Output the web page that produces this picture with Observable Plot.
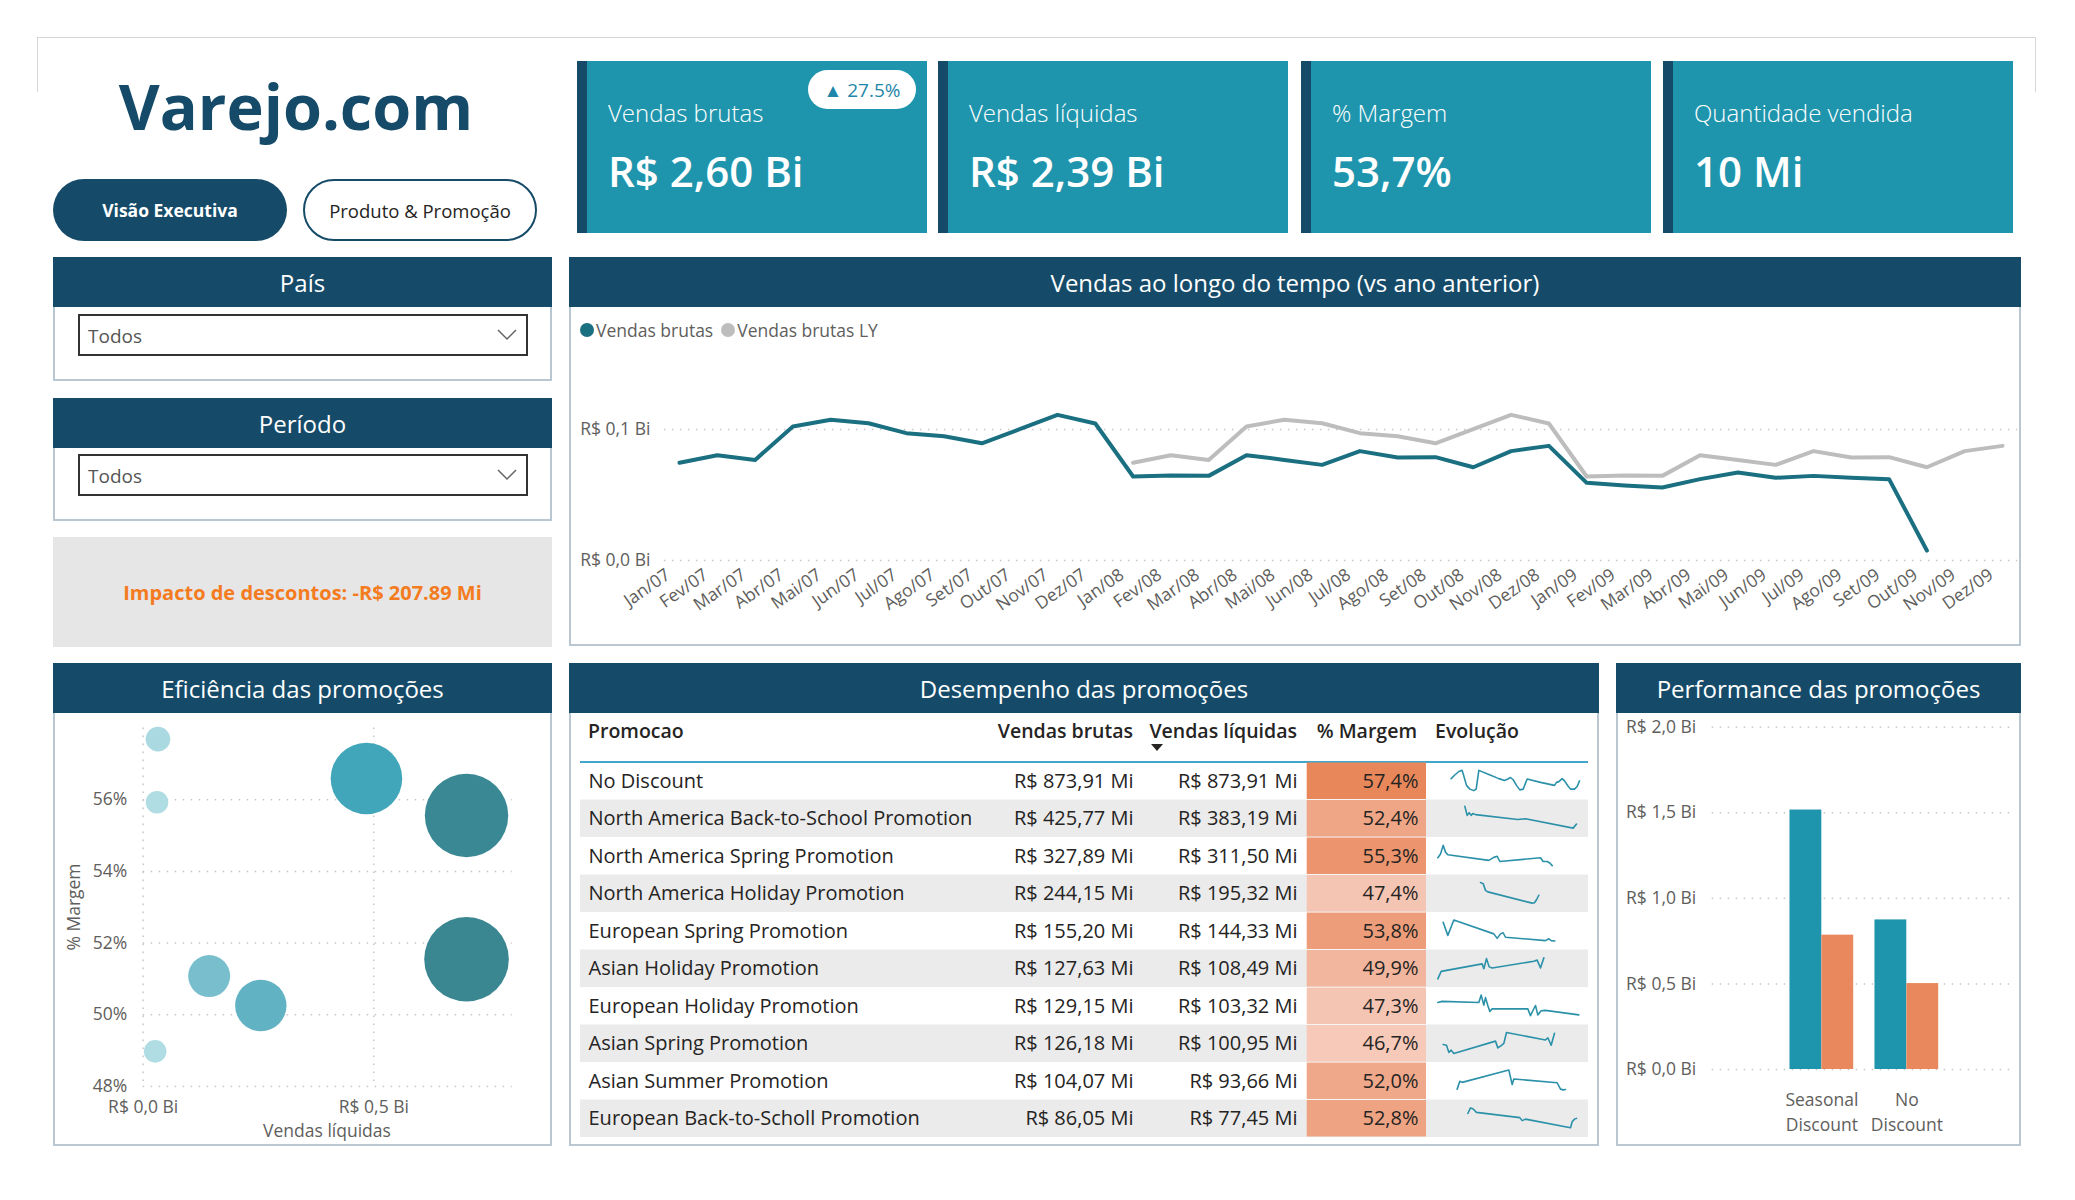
<!DOCTYPE html>
<html lang="pt-BR">
<head>
<meta charset="utf-8">
<script src="https://cdn.jsdelivr.net/npm/d3@7"></script>
<script src="https://cdn.jsdelivr.net/npm/@observablehq/plot@0.6"></script>
<style>
  html, body { margin: 0; padding: 0; background: #fff; }
  body { font-family: "Segoe UI", "Open Sans", sans-serif; color: #252423; }
  #page { position: relative; width: 2075px; height: 1200px; overflow: hidden; background: #fff; }
  .abs { position: absolute; }
  .panel { position: absolute; box-sizing: border-box; border: 2px solid #b9c7d2; background: #fff; }
  .phead { position: absolute; left: -2px; right: -2px; top: -2px; height: 50px; background: #154b69; color: #fff;
           font-size: 24px; display: flex; align-items: center; justify-content: center; }
  .card { position: absolute; top: 61px; width: 350px; height: 172px; background: #1f95ad; }
  .card .strip { position: absolute; left: 0; top: 0; bottom: 0; width: 10px; background: #154b69; }
  .card .lbl { position: absolute; left: 31px; top: 40px; font-size: 24px; color: #fff; font-weight: 300; line-height: 24px; white-space: nowrap; }
  .card .val { position: absolute; left: 31px; top: 89px; font-size: 42px; color: #fff; font-weight: 600; line-height: 42px; white-space: nowrap; }
  .dropdown { position: absolute; left: 78px; width: 450px; height: 42px; box-sizing: border-box; border: 2px solid #333;
              background: #fff; font-size: 19px; color: #555; display: flex; align-items: center; padding-left: 8px; padding-top: 2px; }
  .dropdown svg { position: absolute; right: 9px; top: 13px; }
  .th { position: absolute; top: 718px; font-size: 19.5px; font-weight: 600; color: #252423; white-space: nowrap; line-height: 26px; }
  .plotbox { position: absolute; }
  .plotbox svg { overflow: visible; }
  .axlabel { position: absolute; font-size: 17.5px; color: #605e5c; white-space: nowrap; }
</style>
</head>
<body>
<div id="page">
  <!-- outer frame top -->
  <div class="abs" style="left:37px;top:37px;width:1999px;height:55px;border:1.5px solid #d6d6d6;border-bottom:none;box-sizing:border-box;"></div>

  <!-- title and buttons -->
  <div class="abs" style="left:0;top:71px;width:592px;text-align:center;font-size:63px;font-weight:700;color:#154b69;line-height:70px;">Varejo.com</div>
  <div class="abs" style="left:53px;top:179px;width:234px;height:62px;border-radius:31px;background:#154b69;color:#fff;font-weight:700;font-size:17.5px;display:flex;align-items:center;justify-content:center;">Visão Executiva</div>
  <div class="abs" style="left:303px;top:179px;width:234px;height:62px;border-radius:31px;border:2px solid #154b69;box-sizing:border-box;background:#fff;color:#252423;font-size:18.5px;display:flex;align-items:center;justify-content:center;">Produto &amp; Promoção</div>

  <div id="cards"></div>

  <!-- filters -->
  <div class="panel" style="left:53px;top:257px;width:499px;height:124px;"><div class="phead">País</div></div>
  <div class="dropdown" style="top:314px;">Todos<svg width="20" height="12"><polyline points="1,1 10,10 19,1" fill="none" stroke="#666" stroke-width="1.5"/></svg></div>
  <div class="panel" style="left:53px;top:398px;width:499px;height:123px;"><div class="phead">Período</div></div>
  <div class="dropdown" style="top:454px;">Todos<svg width="20" height="12"><polyline points="1,1 10,10 19,1" fill="none" stroke="#666" stroke-width="1.5"/></svg></div>
  <div class="abs" id="impacto" style="left:53px;top:537px;width:499px;height:110px;background:#e6e6e6;display:flex;align-items:center;justify-content:center;font-size:20px;font-weight:700;color:#f47b20;"></div>

  <!-- panels -->
  <div class="panel" style="left:569px;top:257px;width:1452px;height:389px;"><div class="phead">Vendas ao longo do tempo (vs ano anterior)</div></div>
  <div class="panel" style="left:53px;top:663px;width:499px;height:483px;"><div class="phead">Eficiência das promoções</div></div>
  <div class="panel" style="left:569px;top:663px;width:1030px;height:483px;"><div class="phead">Desempenho das promoções</div></div>
  <div class="panel" style="left:1616px;top:663px;width:405px;height:483px;"><div class="phead">Performance das promoções</div></div>

  <!-- line legend -->
  <div class="abs" style="left:580px;top:318px;height:24px;display:flex;align-items:center;font-size:17.5px;color:#605e5c;white-space:nowrap;">
    <span style="display:inline-block;width:14px;height:14px;border-radius:50%;background:#1a6f80;margin-right:2px;"></span>Vendas brutas
    <span style="display:inline-block;width:14px;height:14px;border-radius:50%;background:#bdbdbd;margin-left:8px;margin-right:2px;"></span>Vendas brutas LY
  </div>

  <!-- table header -->
  <div class="th" style="left:588px;">Promocao</div>
  <div class="th" style="right:942px;">Vendas brutas</div>
  <div class="th" style="right:778px;">Vendas líquidas</div>
  <div class="th" style="right:658px;">% Margem</div>
  <div class="th" style="left:1435px;">Evolução</div>
  <div class="abs" style="left:1151px;top:744px;width:0;height:0;border-left:6px solid transparent;border-right:6px solid transparent;border-top:7px solid #252423;"></div>
  <div class="abs" style="left:580px;top:761px;width:1008px;height:2px;background:#45a6cc;"></div>

  <!-- bubble axis titles -->
  <div class="axlabel" style="left:142px;top:1118px;width:370px;text-align:center;">Vendas líquidas</div>
  <div class="axlabel" style="left:73px;top:907px;transform:translate(-50%,-50%) rotate(-90deg);">% Margem</div>
</div>

<script>
// ---------------- DATA ----------------
const kpiRotulos = ["Vendas brutas", "Vendas líquidas", "% Margem", "Quantidade vendida"];
const kpiValores = ["R$ 2,60 Bi", "R$ 2,39 Bi", "53,7%", "10 Mi"];
const kpiVariacao = "27.5%";
const impactoDescontos = -207.89; // Mi

const meses = ["Jan", "Fev", "Mar", "Abr", "Mai", "Jun", "Jul", "Ago", "Set", "Out", "Nov", "Dez"];
const anos = ["07", "08", "09"];
// Vendas brutas mensais (R$ Mi), Jan/07 .. Out/09
const vendasBrutasMensal = [
  74.6, 80.4, 76.8, 102.3, 107.4, 104.8, 97.2, 94.9, 89.5, 100.2, 111.2, 104.6,
  64.1, 64.9, 64.6, 80.4, 76.8, 73.0, 83.5, 78.6, 78.9, 71.2, 83.5, 87.5,
  59.3, 57.3, 55.7, 62.1, 67.2, 63.1, 64.6, 63.1, 62.1, 7.6
];
const ticksLinha = [0, 100]; // R$ Mi

// Eficiência das promoções (bolhas)
const bolhaVendasLiquidas = [0.032, 0.030, 0.026, 0.143, 0.255, 0.484, 0.701, 0.701]; // R$ Bi
const bolhaMargem = [57.69, 55.93, 48.98, 51.08, 50.26, 56.59, 55.56, 51.55];          // %
const bolhaTamanho = [0.085, 0.071, 0.071, 0.246, 0.369, 0.716, 0.972, 1.0];
const ticksBolhaX = [0, 0.5];
const ticksBolhaY = [48, 50, 52, 54, 56];

// Desempenho das promoções (tabela)
const promocoes = [
  "No Discount", "North America Back-to-School Promotion", "North America Spring Promotion",
  "North America Holiday Promotion", "European Spring Promotion", "Asian Holiday Promotion",
  "European Holiday Promotion", "Asian Spring Promotion", "Asian Summer Promotion",
  "European Back-to-Scholl Promotion"
];
const vendasBrutasPromo = [873.91, 425.77, 327.89, 244.15, 155.20, 127.63, 129.15, 126.18, 104.07, 86.05];
const vendasLiquidasPromo = [873.91, 383.19, 311.50, 195.32, 144.33, 108.49, 103.32, 100.95, 93.66, 77.45];
const margemPromo = [57.4, 52.4, 55.3, 47.4, 53.8, 49.9, 47.3, 46.7, 52.0, 52.8];
// Evolução (sparklines): [tempo, nível relativo 0-100]
const evolucao = [
  [[47,57],[57,66],[70,76],[80,79],[85,64],[93,39],[103,29],[115,25],[122,29],[130,79],[160,68],[190,57],[207,52],[217,56],[225,60],[233,54],[243,39],[253,27],[263,29],[275,56],[315,47],[357,39],[363,47],[370,49],[380,57],[387,51],[397,38],[405,29],[417,29],[425,36],[432,51]],
  [[88,83],[95,59],[101,66],[107,59],[112,64],[120,61],[247,48],[270,50],[413,25],[423,36]],
  [[7,46],[15,56],[23,79],[30,61],[37,54],[160,39],[175,47],[185,50],[193,36],[315,46],[323,36],[335,36],[343,32],[350,25]],
  [[135,80],[143,77],[150,59],[157,55],[290,25],[297,26],[303,34],[310,46]],
  [[23,74],[37,39],[55,80],[175,43],[185,31],[195,43],[203,46],[210,34],[330,25],[340,30],[347,25],[358,24]],
  [[7,23],[17,43],[140,63],[145,50],[153,77],[161,55],[170,52],[295,70],[305,73],[315,52],[325,79]],
  [[7,60],[20,63],[130,60],[137,80],[145,53],[150,73],[157,52],[163,36],[170,43],[277,43],[285,25],[293,40],[300,52],[307,27],[317,38],[330,39],[430,27]],
  [[23,48],[33,46],[40,27],[47,33],[55,24],[180,57],[187,39],[197,45],[205,51],[213,80],[330,60],[337,66],[347,46],[357,78]],
  [[65,29],[73,50],[80,47],[220,80],[230,41],[235,56],[365,46],[375,29],[383,27],[390,28]],
  [[97,64],[105,79],[113,76],[123,67],[253,53],[260,45],[270,49],[405,26],[410,42],[417,49],[423,51]]
];

// Performance das promoções (barras)
const tiposPromo = ["Seasonal Discount", "No Discount"];
const vendasLiquidasTipo = [1.516, 0.874]; // R$ Bi
const margemTipo = [0.785, 0.502];         // R$ Bi
const ticksBarras = [0, 0.5, 1.0, 1.5, 2.0];

// ---------------- HELPERS ----------------
const FONT = '"Segoe UI", "Open Sans", sans-serif';
const AXIS_COLOR = "#605e5c";
const fmtBi = v => `R$ ${v.toFixed(1).replace(".", ",")} Bi`;
const fmtMi = v => `R$ ${v.toFixed(2).replace(".", ",")} Mi`;
const fmtPct = v => `${v.toFixed(1).replace(".", ",")}%`;
const page = document.getElementById("page");
function place(node, left, top) {
  const d = document.createElement("div");
  d.className = "plotbox";
  d.style.left = left + "px";
  d.style.top = top + "px";
  d.appendChild(node);
  page.appendChild(d);
}
const baseStyle = { fontFamily: FONT, fontSize: "17.5px", color: AXIS_COLOR, background: "transparent", overflow: "visible" };

// ---------------- KPI CARDS ----------------
const cardLefts = [577, 938, 1301, 1663];
const cards = document.getElementById("cards");
kpiRotulos.forEach((r, i) => {
  const c = document.createElement("div");
  c.className = "card";
  c.style.left = cardLefts[i] + "px";
  c.innerHTML = `<div class="strip"></div><div class="lbl">${r}</div><div class="val">${kpiValores[i]}</div>`;
  cards.appendChild(c);
});
const badge = document.createElement("div");
badge.className = "abs";
badge.style.cssText = "left:808px;top:70px;width:108px;height:39px;border-radius:20px;background:#fff;color:#1e86a8;font-size:19px;display:flex;align-items:center;justify-content:center;white-space:nowrap;";
badge.textContent = "▲ " + kpiVariacao;
page.appendChild(badge);
document.getElementById("impacto").textContent =
  `Impacto de descontos: -R$ ${Math.abs(impactoDescontos).toFixed(2)} Mi`;

// ---------------- LINE CHART ----------------
const rotulosMes = anos.flatMap(a => meses.map(m => `${m}/${a}`));
const brutasData = vendasBrutasMensal.map((v, i) => ({ mes: rotulosMes[i], valor: v }));
const lyData = rotulosMes.slice(12).map((m, i) => ({ mes: m, valor: vendasBrutasMensal[i] }));

place(Plot.plot({
  width: 1447, height: 338,
  marginLeft: 92.9, marginRight: 0.9, marginTop: 43.4, marginBottom: 85,
  style: baseStyle,
  x: { type: "point", domain: rotulosMes, padding: 0.4, round: false, axis: null },
  y: { domain: [0, 160], ticks: ticksLinha, tickFormat: d => fmtBi(d / 1000), tickSize: 0, tickPadding: 14, label: null },
  marks: [
    Plot.ruleY(ticksLinha, { stroke: "#c6c6c6", strokeWidth: 1.5, strokeDasharray: "1.5,6.5" }),
    Plot.line(lyData, { x: "mes", y: "valor", stroke: "#bdbdbd", strokeWidth: 4 }),
    Plot.line(brutasData, { x: "mes", y: "valor", stroke: "#1a6f80", strokeWidth: 4 }),
    Plot.text(rotulosMes, { x: d => d, text: d => d, frameAnchor: "bottom", rotate: -35, textAnchor: "end",
                            dx: -8, dy: 17, fill: AXIS_COLOR, fontSize: 17.5 })
  ]
}), 571, 307);

// ---------------- BUBBLE CHART ----------------
const bolhas = bolhaVendasLiquidas.map((x, i) => ({ x, y: bolhaMargem[i], s: bolhaTamanho[i] }));
place(Plot.plot({
  width: 495, height: 432,
  marginLeft: 87.7, marginRight: 38.3, marginTop: 15.5, marginBottom: 58,
  style: baseStyle,
  x: { domain: [0, 0.8], ticks: ticksBolhaX, tickFormat: fmtBi, tickSize: 0, tickPadding: 14, label: null },
  y: { domain: [48, 58], ticks: ticksBolhaY, tickFormat: d => d + "%", tickSize: 0, tickPadding: 16, label: null },
  r: { type: "sqrt", domain: [0, 1], range: [0, 42.3] },
  color: { type: "linear", domain: [0.07, 0.3, 0.72, 1.0], range: ["#acdae2", "#5fb1c2", "#38a1b6", "#2f7f8b"] },
  marks: [
    Plot.ruleY(ticksBolhaY, { stroke: "#c6c6c6", strokeWidth: 1.5, strokeDasharray: "1.5,6.5" }),
    Plot.ruleX(ticksBolhaX, { stroke: "#c6c6c6", strokeWidth: 1.5, strokeDasharray: "1.5,6.5" }),
    Plot.dot(bolhas, { x: "x", y: "y", r: "s", fill: "s", fillOpacity: 0.95 })
  ]
}), 55, 712);

// ---------------- TABLE ----------------
const linhas = promocoes.map((p, i) => ({
  promo: p, brutas: vendasBrutasPromo[i], liquidas: vendasLiquidasPromo[i], margem: margemPromo[i], idx: i
}));
const textOpts = { y: "promo", frameAnchor: "left", fill: "#252423", fontSize: 20 };
place(Plot.plot({
  width: 1026, height: 375, margin: 0,
  style: { ...baseStyle, fontSize: "20px" },
  y: { domain: promocoes, padding: 0, round: false, axis: null },
  color: { type: "linear", domain: [46.7, 57.4], range: ["#f6c9b9", "#e8875a"] },
  marks: [
    Plot.cell(linhas.filter(d => d.idx % 2 === 1), { y: "promo", fill: "#ebebeb", insetLeft: 9, insetRight: 9 }),
    Plot.cell(linhas, { y: "promo", fill: "margem", insetLeft: 735.7, insetRight: 171, insetTop: 0.5, insetBottom: 0.5 }),
    Plot.text(linhas, { ...textOpts, text: "promo", textAnchor: "start", dx: 17 }),
    Plot.text(linhas, { ...textOpts, text: d => fmtMi(d.brutas), textAnchor: "end", dx: 562 }),
    Plot.text(linhas, { ...textOpts, text: d => fmtMi(d.liquidas), textAnchor: "end", dx: 726 }),
    Plot.text(linhas, { ...textOpts, text: d => fmtPct(d.margem), textAnchor: "end", dx: 847 })
  ]
}), 571, 762);

// sparklines
const sparkData = evolucao.flatMap((serie, i) => serie.map(([t, v]) => ({ promo: promocoes[i], t, v })));
place(Plot.plot({
  width: 145, height: 375, margin: 0,
  style: baseStyle,
  facet: { data: sparkData, y: "promo", marginTop: 0, marginRight: 0, marginBottom: 0, marginLeft: 0 },
  fy: { domain: promocoes, padding: 0, round: false, axis: null, label: null },
  x: { domain: [0, 435], axis: null },
  y: { domain: [0, 100], axis: null },
  marks: [
    Plot.line(sparkData, { x: "t", y: "v", stroke: "#2b91a9", strokeWidth: 1.6 })
  ]
}), 1435, 762);

// ---------------- BAR CHART ----------------
const barras = tiposPromo.map((c, i) => ({ tipo: c, liquidas: vendasLiquidasTipo[i], margem: margemTipo[i] }));
const bandInset = 31.9;
place(Plot.plot({
  width: 401, height: 432,
  marginLeft: 93.7, marginRight: 9, marginTop: 14.7, marginBottom: 75,
  style: baseStyle,
  x: { domain: tiposPromo, paddingInner: 0.25, paddingOuter: 0.88, align: 0.52, round: false, axis: null },
  y: { domain: [0, 2], ticks: ticksBarras, tickFormat: fmtBi, tickSize: 0, tickPadding: 16, label: null },
  marks: [
    Plot.ruleY(ticksBarras, { stroke: "#c6c6c6", strokeWidth: 1.5, strokeDasharray: "1.5,6.5" }),
    Plot.barY(barras, { x: "tipo", y: "liquidas", fill: "#1f95ad", insetRight: bandInset }),
    Plot.barY(barras, { x: "tipo", y: "margem", fill: "#e8885c", insetLeft: bandInset }),
    Plot.text(barras, { x: "tipo", text: d => d.tipo.replace(" ", "\n"), frameAnchor: "bottom", lineAnchor: "top",
                        dy: 19, lineHeight: 1.43, fill: AXIS_COLOR, fontSize: 17.5 })
  ]
}), 1618, 712);
</script>
</body>
</html>
